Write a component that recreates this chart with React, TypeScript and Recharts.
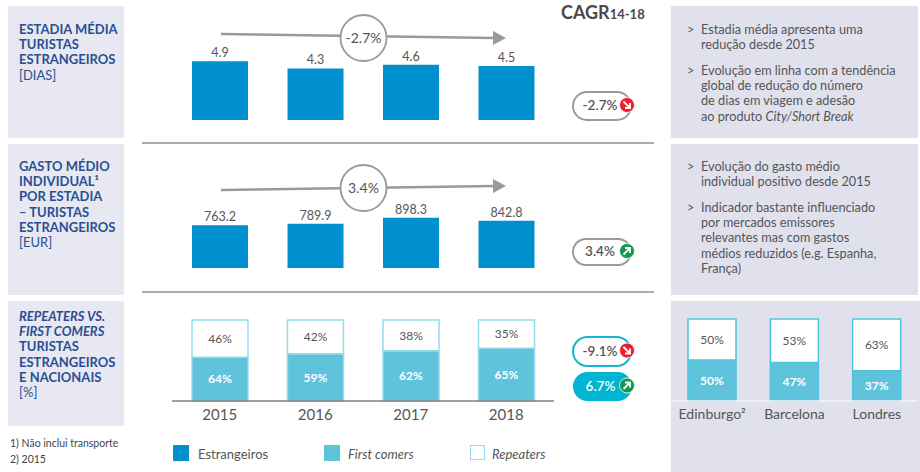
import { BarChart, Bar, XAxis, YAxis, LabelList } from "recharts";
import type { CSSProperties, ReactNode } from "react";

const years = ["2015", "2016", "2017", "2018"];
const estadia = [4.9, 4.3, 4.6, 4.5];
const gasto = [763.2, 789.9, 898.3, 842.8];
const firstComers = [54, 59, 62, 65];
// the first label is printed as 64% although the bar is drawn at about 54%
const firstComersLabels = ["64%", "59%", "62%", "65%"];
const repeaters = [46, 42, 38, 35];

const cities = ["Edinburgo²", "Barcelona", "Londres"];
const cityFirst = [50, 47, 37];
const cityRepeat = [50, 53, 63];

const BLUE = "#008fcf";
const TEAL = "#5fc3dc";
const AXIS = "#808080";
const TEXT = "#555555";
const NAVY = "#2b4f93";
const FONT = "Lato, sans-serif";

const estadiaData = years.map((year, i) => ({ year, value: estadia[i] }));
const gastoData = years.map((year, i) => ({ year, value: gasto[i] }));
const stackData = years.map((year, i) => ({
  year,
  first: firstComers[i],
  firstLabel: firstComersLabels[i],
  repeat: repeaters[i],
  repeatLabel: `${repeaters[i]}%`,
}));
const cityData = cities.map((city, i) => ({
  city,
  first: cityFirst[i],
  firstLabel: `${cityFirst[i]}%`,
  repeat: cityRepeat[i],
  repeatLabel: `${cityRepeat[i]}%`,
}));

function Box({ x, y, w, h, color, children }: { x: number; y: number; w: number; h: number; color?: string; children?: ReactNode }) {
  return <div style={{ position: "absolute", left: x, top: y, width: w, height: h, background: color }}>{children}</div>;
}

function Lines({ x, y, lines, style }: { x: number; y: number; lines: ReactNode[]; style: CSSProperties }) {
  return (
    <div style={{ position: "absolute", left: x, top: y, whiteSpace: "nowrap", ...style }}>
      {lines.map((line, i) => (
        <div key={i}>{line}</div>
      ))}
    </div>
  );
}

function Bullet({ y, lines }: { y: number; lines: ReactNode[] }) {
  const style = { fontSize: 12.7, lineHeight: "15.2px", color: TEXT, fontFamily: FONT };
  return (
    <>
      <Lines x={687} y={y} lines={[">"]} style={style} />
      <Lines x={701} y={y} lines={lines} style={style} />
    </>
  );
}

function SimpleBars({ data, max, height }: { data: { year: string; value: number }[]; max: number; height: number }) {
  return (
    <BarChart width={382} height={height} data={data} margin={{ top: 20, right: 0, bottom: 2, left: 0 }}>
      <XAxis dataKey="year" tick={false} tickLine={false} height={0} axisLine={{ stroke: AXIS, strokeWidth: 1.5 }} />
      <YAxis hide domain={[0, max]} />
      <Bar dataKey="value" fill={BLUE} barSize={56} isAnimationActive={false}>
        <LabelList
          dataKey="value"
          position="top"
          offset={4}
          fill={TEXT}
          fontSize={12.5}
          fontFamily={FONT}
          formatter={(v: number) => v.toFixed(1)}
        />
      </Bar>
    </BarChart>
  );
}

function StackBars({
  data,
  dataKey,
  width,
  height,
  barSize,
  stroke,
  axis,
  tickSize,
}: {
  data: Record<string, string | number>[];
  dataKey: string;
  width: number;
  height: number;
  barSize: number;
  stroke: string;
  axis: string;
  tickSize: number;
}) {
  return (
    <BarChart width={width} height={height} data={data} stackOffset="expand" margin={{ top: 2, right: 0, bottom: 0, left: 0 }}>
      <XAxis
        dataKey={dataKey}
        tickLine={false}
        height={24}
        interval={0}
        tickMargin={2}
        axisLine={{ stroke: axis, strokeWidth: 1.5 }}
        tick={{ fill: TEXT, fontSize: tickSize, fontFamily: FONT }}
      />
      <YAxis hide domain={[0, 1]} />
      <Bar dataKey="first" stackId="a" fill={TEAL} stroke={stroke} strokeWidth={1.5} barSize={barSize} isAnimationActive={false}>
        <LabelList dataKey="firstLabel" position="center" fill="#ffffff" fontSize={12} fontWeight={700} fontFamily={FONT} />
      </Bar>
      <Bar dataKey="repeat" stackId="a" fill="#ffffff" stroke={stroke} strokeWidth={1.5} barSize={barSize} isAnimationActive={false}>
        <LabelList dataKey="repeatLabel" position="center" fill={TEXT} fontSize={12} fontFamily={FONT} />
      </Bar>
    </BarChart>
  );
}

function Badge({ x, y, w, h, label, stroke, fill, color, up }: { x: number; y: number; w: number; h: number; label: string; stroke: string; fill: string; color: string; up: boolean }) {
  const cy = y + h / 2 - 1;
  const ix = x + w - 4;
  return (
    <g fontFamily={FONT}>
      <rect x={x} y={y} width={w} height={h} rx={h / 2} fill={fill} stroke={stroke} strokeWidth={2} />
      <text x={x + w / 2 - 2} y={cy + 5} textAnchor="middle" fontSize={13.5} fontWeight={600} fill={color}>
        {label}
      </text>
      <circle cx={ix} cy={cy} r={7.5} fill={up ? "#109a4d" : "#e8202f"} stroke="#ffffff" strokeWidth={0.8} />
      <path
        d={up ? `M${ix - 3.5} ${cy + 3.5}L${ix + 3} ${cy - 3}M${ix - 2} ${cy - 3}H${ix + 3}V${cy + 2}` : `M${ix - 3.5} ${cy - 3.5}L${ix + 3} ${cy + 3}M${ix - 2} ${cy + 3}H${ix + 3}V${cy - 2}`}
        stroke="#ffffff"
        strokeWidth={1.8}
        fill="none"
      />
    </g>
  );
}

function Trend({ y1, y2, cy, label }: { y1: number; y2: number; cy: number; label: string }) {
  return (
    <g>
      <line x1={221} y1={y1} x2={494} y2={y2} stroke="#9a9a9a" strokeWidth={2.5} />
      <path d={`M493 ${y2 - 7}L506 ${y2}L493 ${y2 + 7}Z`} fill="#9a9a9a" />
      <circle cx={363.5} cy={cy} r={23} fill="#ffffff" stroke="#9a9a9a" strokeWidth={1.8} />
      <text x={363.5} y={cy + 5} textAnchor="middle" fontSize={14} fill={TEXT} fontFamily={FONT}>
        {label}
      </text>
    </g>
  );
}

export default function App() {
  const title = { fontSize: 13, lineHeight: "15.2px", fontWeight: 700, color: NAVY, fontFamily: FONT };
  const unit = { fontWeight: 400 };
  const legendText = { fontSize: 13, color: TEXT, fontFamily: FONT };
  return (
    <div style={{ position: "fixed", left: 0, top: 0, width: 920, height: 472, background: "#ffffff", overflow: "hidden" }}>
      <Box x={8} y={6} w={116} h={132} color="#e7e8f1" />
      <Box x={8} y={144} w={116} h={151} color="#e7e8f1" />
      <Box x={8} y={301} w={116} h={125} color="#e7e8f1" />
      <Box x={671} y={6} w={247} h={132} color="#e0e1ed" />
      <Box x={671} y={144} w={247} h={151} color="#e0e1ed" />
      <Box x={671} y={301} w={249} h={171} color="#e0e1ed" />

      <Lines x={19} y={22} style={title} lines={["ESTADIA MÉDIA", "TURISTAS", "ESTRANGEIROS", <span style={unit}>[DIAS]</span>]} />
      <Lines
        x={19}
        y={159}
        style={title}
        lines={["GASTO MÉDIO", "INDIVIDUAL¹", "POR ESTADIA", "– TURISTAS", "ESTRANGEIROS", <span style={unit}>[EUR]</span>]}
      />
      <Lines
        x={19}
        y={309}
        style={title}
        lines={[<i>REPEATERS VS.</i>, <i>FIRST COMERS</i>, "TURISTAS", "ESTRANGEIROS", "E NACIONAIS", <span style={unit}>[%]</span>]}
      />

      <Box x={142} y={142} w={512} h={2} color="#ababab" />
      <Box x={142} y={291} w={512} h={2} color="#ababab" />

      <Box x={172} y={40} w={382} h={82}>
        <SimpleBars data={estadiaData} max={5} height={82} />
      </Box>
      <Box x={172} y={191.5} w={382} h={78}>
        <SimpleBars data={gastoData} max={1000} height={78} />
      </Box>
      <Box x={172} y={317.5} w={382} h={107}>
        <StackBars data={stackData} dataKey="year" width={382} height={107} barSize={56} stroke="#93dcec" axis={AXIS} tickSize={15} />
      </Box>
      <Box x={671} y={316.5} w={247} h={108}>
        <StackBars data={cityData} dataKey="city" width={247} height={108} barSize={48} stroke="#4cc6e0" axis="#f4f4f9" tickSize={14} />
      </Box>

      <svg width={920} height={472} style={{ position: "absolute", left: 0, top: 0 }}>
        <Trend y1={34} y2={38} cy={38} label="-2.7%" />
        <Trend y1={190} y2={186} cy={188} label="3.4%" />
        <Badge x={573} y={92} w={58} h={28} label="-2.7%" stroke="#9a9a9a" fill="#ffffff" color={TEXT} up={false} />
        <Badge x={573} y={239} w={58} h={26} label="3.4%" stroke="#9a9a9a" fill="#ffffff" color={TEXT} up={true} />
        <Badge x={573} y={337} w={58} h={29} label="-9.1%" stroke="#12b5d2" fill="#ffffff" color={TEXT} up={false} />
        <Badge x={574} y={373} w={57} h={27} label="6.7%" stroke="#00b5d1" fill="#00b5d1" color="#ffffff" up={true} />
      </svg>

      <div style={{ position: "absolute", left: 561, top: 1, fontFamily: FONT, fontWeight: 700, fontSize: 18, color: "#4a4a4a", whiteSpace: "nowrap" }}>
        CAGR<span style={{ fontSize: 13 }}>14-18</span>
      </div>

      <Bullet y={22} lines={["Estadia média apresenta uma", "redução desde 2015"]} />
      <Bullet y={63} lines={["Evolução em linha com a tendência", "global de redução do número", "de dias em viagem e adesão", <span>ao produto <i>City/Short Break</i></span>]} />
      <Bullet y={159} lines={["Evolução do gasto médio", "individual positivo desde 2015"]} />
      <Bullet y={200} lines={["Indicador bastante influenciado", "por mercados emissores", "relevantes mas com gastos", "médios reduzidos (e.g. Espanha,", "França)"]} />

      <Lines x={10} y={436} style={{ fontSize: 10.5, lineHeight: "15.5px", color: "#444444", fontFamily: FONT }} lines={["1) Não inclui transporte", "2) 2015"]} />

      <Box x={172.5} y={445} w={16} h={16} color={BLUE} />
      <Lines x={198} y={446} style={legendText} lines={["Estrangeiros"]} />
      <Box x={324} y={445} w={16} h={16} color={TEAL} />
      <Lines x={348} y={446} style={{ ...legendText, fontStyle: "italic" }} lines={["First comers"]} />
      <div style={{ position: "absolute", left: 469.5, top: 444.5, width: 13, height: 13, border: "1.5px solid #8fdcec" }} />
      <Lines x={492} y={446} style={{ ...legendText, fontStyle: "italic" }} lines={["Repeaters"]} />
    </div>
  );
}
